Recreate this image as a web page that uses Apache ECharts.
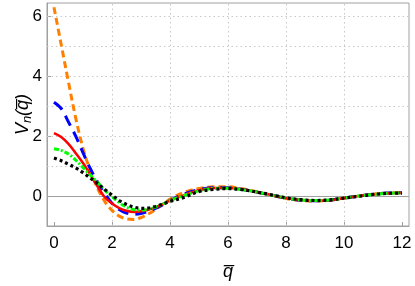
<!DOCTYPE html>
<html><head><meta charset="utf-8">
<script src="https://cdn.jsdelivr.net/npm/echarts@6/dist/echarts.min.js"></script>
<style>html,body{margin:0;padding:0;background:#fff}#c{width:415px;height:286px}</style>
</head><body><div id="c"></div>
<script>
// q-bar sample positions
const xs = [0,0.25,0.5,0.75,1,1.25,1.5,1.75,2,2.25,2.5,2.75,3,3.25,3.5,3.75,4,4.5,5,5.5,6,6.5,7,7.5,8,8.5,9,9.5,10,10.5,11,11.5,12];
const orangeV = [6.3,5.05,3.8,2.6,1.6,0.85,0.27,-0.18,-0.48,-0.67,-0.76,-0.78,-0.72,-0.6,-0.45,-0.28,-0.1,0.13,0.25,0.31,0.31,0.24,0.14,0.03,-0.08,-0.15,-0.17,-0.14,-0.07,0.0,0.06,0.1,0.11];
const blueV   = [3.13,2.92,2.47,2.0,1.45,0.92,0.47,0.08,-0.24,-0.45,-0.57,-0.61,-0.58,-0.51,-0.41,-0.29,-0.15,0.07,0.21,0.28,0.28,0.22,0.13,0.03,-0.07,-0.14,-0.16,-0.14,-0.07,0.0,0.06,0.1,0.11];
const redV    = [2.1,1.97,1.74,1.43,1.1,0.72,0.32,-0.04,-0.25,-0.4,-0.49,-0.53,-0.51,-0.46,-0.38,-0.27,-0.15,0.04,0.19,0.27,0.27,0.22,0.13,0.03,-0.07,-0.13,-0.16,-0.14,-0.07,0.0,0.06,0.09,0.11];
const greenV  = [1.58,1.52,1.4,1.2,0.95,0.7,0.46,0.2,-0.02,-0.22,-0.37,-0.45,-0.47,-0.44,-0.37,-0.27,-0.15,0.02,0.17,0.25,0.26,0.21,0.13,0.03,-0.06,-0.13,-0.15,-0.13,-0.07,0.0,0.05,0.09,0.1];
const blackV  = [1.27,1.18,1.06,0.94,0.78,0.6,0.42,0.22,0.03,-0.15,-0.28,-0.37,-0.41,-0.4,-0.35,-0.27,-0.18,-0.04,0.15,0.22,0.25,0.21,0.13,0.04,-0.06,-0.12,-0.15,-0.13,-0.07,-0.01,0.05,0.09,0.1];
const xTicks = [0,2,4,6,8,10,12];
const yTicks = [0,2,4,6];
const vGrid = [2,4,6,8,10];
const hGrid = [1,2,3,4,5,6];

const pts = v => xs.map((x,i)=>[x,v[i]]);
const font = 'Liberation Sans, Arial, sans-serif';
const chart = echarts.init(document.getElementById('c'));
const mk = (name,color,vals,type,width) => ({
  name, type:'line', data:pts(vals), smooth:0.35, showSymbol:false, symbol:'none',
  lineStyle:{color, width, type, cap:'butt'}, animation:false, z:2
});
const series = [
  mk('o','#FF8000',orangeV,[7,4],3),
  mk('b','#0000FF',blueV,[11,7],3),
  mk('r','#FF0000',redV,'solid',2.5),
  mk('g','#00FF00',greenV,[5,2,2,2],3),
  mk('k','#000000',blackV,[3,3],3.2)
];
series[0].markLine = {
  silent:true, symbol:'none', animation:false, label:{show:false},
  data: vGrid.map(v=>({xAxis:v, lineStyle:{color:'#c8c8c8',type:[1.5,3],width:1}}))
    .concat(hGrid.map(v=>({yAxis:v, lineStyle:{color:'#c8c8c8',type:[1.5,3],width:1}})))
    .concat([{yAxis:0, lineStyle:{color:'#a0a0a0',type:'solid',width:1}}])
};
series[0].markLine.z = 1;
chart.setOption({
  animation:false,
  grid:{left:47,right:6,top:3,bottom:60,show:true,borderColor:'#a0a0a0',borderWidth:1,backgroundColor:'transparent',containLabel:false,outerBoundsMode:'none'},
  xAxis:{type:'value',min:-0.24,max:12.24,
    name:'q\u0305',nameLocation:'middle',nameGap:37,nameMoveOverlap:false,
    nameTextStyle:{fontFamily:font,fontSize:18,fontStyle:'italic',color:'#000'},
    axisLine:{show:true,onZero:false,lineStyle:{color:'#a0a0a0'}},
    axisTick:{show:true,inside:true,length:4,customValues:xTicks,lineStyle:{color:'#a0a0a0'}},
    axisLabel:{customValues:xTicks,fontFamily:font,fontSize:17,color:'#000',margin:9},
    splitLine:{show:false}},
  yAxis:{type:'value',min:-1,max:6.44,interval:1,
    name:'{v|V}{n|n}{p|(q\u0305)}',nameLocation:'middle',nameGap:15,nameRotate:90,nameMoveOverlap:false,
    nameTextStyle:{fontFamily:font,color:'#000',rich:{
      v:{fontSize:18,fontStyle:'italic',fontFamily:font},
      n:{fontSize:13,fontStyle:'italic',fontFamily:font,padding:[0,0,-8,0]},
      p:{fontSize:18,fontStyle:'italic',fontFamily:font}}},
    axisLine:{show:true,onZero:false,lineStyle:{color:'#a0a0a0'}},
    axisTick:{show:true,inside:true,length:4,customValues:yTicks,lineStyle:{color:'#a0a0a0'}},
    axisLabel:{customValues:yTicks,fontFamily:font,fontSize:17,color:'#000',margin:5},
    splitLine:{show:false}},
  series
});
</script></body></html>
